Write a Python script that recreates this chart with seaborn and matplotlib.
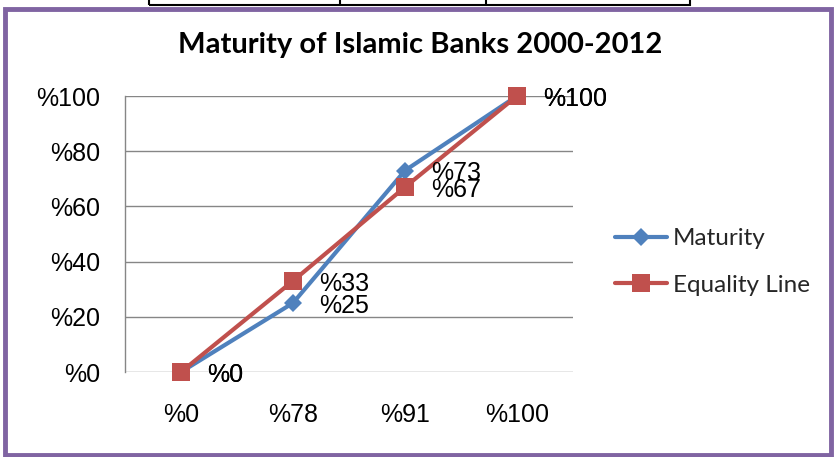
import matplotlib
matplotlib.use("Agg")
import matplotlib.pyplot as plt
import seaborn as sns
import pandas as pd
from matplotlib.patches import Rectangle
from matplotlib.lines import Line2D

categories = ["%0", "%78", "%91", "%100"]
maturity = [0, 25, 73, 100]
equality = [0, 33, 67, 100]
series_names = ["Maturity", "Equality Line"]
y_ticks = [0, 20, 40, 60, 80, 100]
y_tick_labels = ["%0", "%20", "%40", "%60", "%80", "%100"]

blue = "#4F81BD"
red = "#C0504D"

df = pd.DataFrame({
    "cat": categories * 2,
    "val": maturity + equality,
    "series": [series_names[0]] * 4 + [series_names[1]] * 4,
})

sns.set_theme(style="white")
plt.rcParams['font.family'] = ['Liberation Sans', 'DejaVu Sans']

fig = plt.figure(figsize=(8.37, 4.57), dpi=100)
ax = fig.add_axes([125/837, 1-372/457, 448/837, 276/457])

sns.lineplot(data=df, x="cat", y="val", hue="series", style="series",
             palette={series_names[0]: blue, series_names[1]: red},
             markers={series_names[0]: "D", series_names[1]: "s"},
             dashes=False, linewidth=3, markersize=10, markeredgewidth=0,
             ax=ax, legend=False, clip_on=False, sort=False)
for ln in ax.lines:
    if ln.get_marker() == "s":
        ln.set_markersize(12.5)
        ln.set_zorder(4)
    else:
        ln.set_markersize(9.5)
        ln.set_zorder(3)

ax.set_xlim(-0.5, 3.5)
ax.set_ylim(0, 100)
ax.set_yticks(y_ticks)
ax.set_yticklabels(y_tick_labels)
ax.set_xlabel("")
ax.set_ylabel("")
ax.grid(axis="y", color="#868686", linewidth=1)
ax.grid(axis="x", visible=False)
for s in ["top", "right", "bottom"]:
    ax.spines[s].set_visible(False)
ax.spines["left"].set_color("#868686")
ax.spines["left"].set_linewidth(1)
ax.tick_params(axis="y", length=0, labelsize=18, pad=18)
ax.tick_params(axis="x", length=0, labelsize=18, pad=22)
for t in ax.get_xticklabels() + ax.get_yticklabels():
    t.set_color("black")

for vals in (maturity, equality):
    for i, v in enumerate(vals):
        ax.annotate(f"%{v}", (i, v), xytext=(19, -2), textcoords="offset points",
                    va="center", ha="left", fontsize=18, color="black",
                    annotation_clip=False, zorder=5)

fig.text(420/837, 1-45/457, "Maturity of Islamic Banks 2000-2012",
         ha="center", va="center", fontsize=21, fontweight="bold",
         family=["Lato", "DejaVu Sans"], color="black")

handles = [
    Line2D([], [], color=blue, lw=3, marker="D", markersize=9.5, markeredgewidth=0),
    Line2D([], [], color=red, lw=3, marker="s", markersize=12.5, markeredgewidth=0),
]
leg = fig.legend(handles, series_names, loc="center left",
                 bbox_to_anchor=(593/837, 1-262/457), frameon=False,
                 prop={"family": ["Lato", "DejaVu Sans"], "size": 17.5},
                 handlelength=2.15, handletextpad=0.25, labelspacing=1.05)

# purple outer border
fig.patches.append(Rectangle((4.5/837, 2/457), 827/837, 446/457,
                             transform=fig.transFigure, fill=False,
                             edgecolor="#8064A2", linewidth=3.5))
# cut-off table at top
fig.patches.append(Rectangle((149/837, 1-5/457), 541/837, 20/457,
                             transform=fig.transFigure, fill=False,
                             edgecolor="black", linewidth=1.5, clip_on=False))
for xx in (340, 486):
    fig.lines.append(Line2D([xx/837, xx/837], [1-5/457, 1.0],
                            transform=fig.transFigure, color="black", linewidth=1.5))

fig.savefig("out.png", dpi=100)
